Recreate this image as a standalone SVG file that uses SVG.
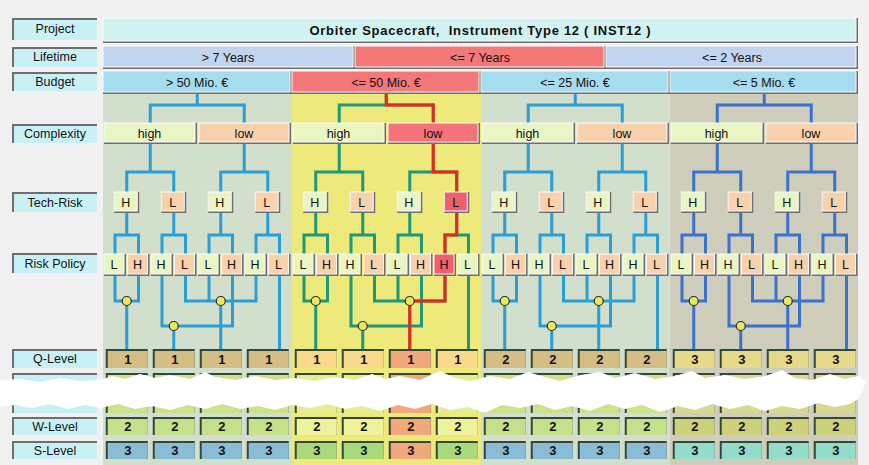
<svg xmlns="http://www.w3.org/2000/svg" width="869" height="465" viewBox="0 0 869 465">
<style>
.t{font-family:"Liberation Sans",Arial,sans-serif;font-size:12.5px;fill:#111;text-anchor:middle}
.b{font-weight:bold;font-size:13px}
.d{fill:#6e6e6e}
.dk{fill:#34483a}
.lb{fill:#c9f1f5}
.hg{fill:#eaf5c4;stroke:#fbfbfb;stroke-width:1}
.pc{fill:#f8d2ac;stroke:#fbfbfb;stroke-width:1}
.rd{fill:#f3747a;stroke:#fbfbfb;stroke-width:1}
.rd2{fill:#ef5f6c;stroke:#fbfbfb;stroke-width:1}
.ln{fill:none;stroke-width:3}
.jn{fill:#e9e95c;stroke:#2a2a2a;stroke-width:1.2}
.q1{fill:#d5be86}.q2{fill:#f9d98a}.q4{fill:#e5d98a}.qr{fill:#f1a87a}
.w1{fill:#c5e08a}.w2{fill:#eef29c}.w4{fill:#cdd27a}
.s1{fill:#8abdd5}.s2{fill:#a9d97b}.s4{fill:#92dcc9}
.r1{fill:#cfe088}.r2{fill:#e6ec90}.r4{fill:#d8d890}
</style>
<rect x="0" y="0" width="869" height="465" fill="#f1f1f1"/>
<!-- column backgrounds -->
<rect x="103" y="94" width="189" height="371" fill="#d3dfcd"/>
<rect x="292" y="94" width="189" height="371" fill="#ede97a"/>
<rect x="481" y="94" width="189" height="371" fill="#d3dfcd"/>
<rect x="670" y="94" width="188" height="371" fill="#cfcdbb"/>

<!-- left labels -->
<g id="labels">
<g id="lbl-project"><rect class="d" x="12" y="18" width="85" height="22"/><rect class="lb" x="14" y="20" width="83" height="20"/><text class="t" x="55" y="33">Project</text></g>
<g id="lbl-lifetime"><rect class="d" x="12" y="47" width="85" height="20"/><rect class="lb" x="14" y="49" width="83" height="18"/><text class="t" x="55" y="61">Lifetime</text></g>
<g id="lbl-budget"><rect class="d" x="12" y="72" width="85" height="19"/><rect class="lb" x="14" y="74" width="83" height="17"/><text class="t" x="55" y="86">Budget</text></g>
<g id="lbl-complexity"><rect class="d" x="12" y="124" width="85" height="19"/><rect class="lb" x="14" y="126" width="83" height="17"/><text class="t" x="55" y="138">Complexity</text></g>
<g id="lbl-techrisk"><rect class="d" x="12" y="192" width="85" height="20"/><rect class="lb" x="14" y="194" width="83" height="18"/><text class="t" x="55" y="207">Tech-Risk</text></g>
<g id="lbl-riskpolicy"><rect class="d" x="12" y="253" width="85" height="20"/><rect class="lb" x="14" y="255" width="83" height="18"/><text class="t" x="55" y="268">Risk Policy</text></g>
<g id="lbl-qlevel"><rect class="d" x="12" y="349" width="85" height="19"/><rect class="lb" x="14" y="351" width="83" height="17"/><text class="t" x="55" y="363">Q-Level</text></g>
<g id="lbl-hidden1"><rect class="d" x="12" y="373" width="85" height="18"/><rect class="lb" x="14" y="375" width="83" height="16"/></g>
<g id="lbl-hidden2"><rect class="d" x="12" y="395" width="85" height="18"/><rect class="lb" x="14" y="397" width="83" height="16"/></g>
<g id="lbl-wlevel"><rect class="d" x="12" y="417" width="85" height="18"/><rect class="lb" x="14" y="419" width="83" height="16"/><text class="t" x="55" y="431">W-Level</text></g>
<g id="lbl-slevel"><rect class="d" x="12" y="441" width="85" height="18"/><rect class="lb" x="14" y="443" width="83" height="16"/><text class="t" x="55" y="455">S-Level</text></g>
</g>

<!-- header bars -->
<g id="project"><rect class="d" x="103" y="18" width="755" height="25"/><rect x="103" y="18" width="753" height="23" fill="#d2f2f2" stroke="#fbfbfb"/><text class="t b" x="480" y="35" font-size="14" textLength="341" xml:space="preserve">Orbiter Spacecraft,  Instrument Type 12 ( INST12 )</text></g>
<g id="life-1"><rect class="d" x="103" y="46" width="252" height="23"/><rect x="103" y="46" width="250" height="21" fill="#c2d4ee" stroke="#fbfbfb"/><text class="t" x="228" y="62">&gt; 7 Years</text></g>
<g id="life-2"><rect class="d" x="355" y="46" width="251" height="23"/><rect x="355" y="46" width="249" height="21" fill="#f47878" stroke="#fbfbfb"/><text class="t" x="480" y="62">&lt;= 7 Years</text></g>
<g id="life-3"><rect class="d" x="606" y="46" width="252" height="23"/><rect x="606" y="46" width="250" height="21" fill="#c2d4ee" stroke="#fbfbfb"/><text class="t" x="732" y="62">&lt;= 2 Years</text></g>
<g id="budget-1"><rect class="d" x="103" y="71" width="189" height="23"/><rect x="103" y="71" width="187" height="21" fill="#a6dcf0" stroke="#fbfbfb"/><text class="t" x="197" y="87">&gt; 50 Mio. €</text></g>
<g id="budget-2"><rect class="d" x="292" y="71" width="189" height="23"/><rect x="292" y="71" width="187" height="21" fill="#f47878" stroke="#fbfbfb"/><text class="t" x="386" y="87">&lt;= 50 Mio. €</text></g>
<g id="budget-3"><rect class="d" x="481" y="71" width="189" height="23"/><rect x="481" y="71" width="187" height="21" fill="#a6dcf0" stroke="#fbfbfb"/><text class="t" x="575" y="87">&lt;= 25 Mio. €</text></g>
<g id="budget-4"><rect class="d" x="670" y="71" width="188" height="23"/><rect x="670" y="71" width="186" height="21" fill="#a6dcf0" stroke="#fbfbfb"/><text class="t" x="764" y="87">&lt;= 5 Mio. €</text></g>

<!-- connectors -->
<g id="connectors">
<g transform="translate(103,0)"><path class="ln" stroke="#2a9fd6" d="M94.25 94V105M47.25 123V105H141.25V123M47.25 144V172M23.75 192V172H70.75V192M141.25 144V172M117.75 192V172H164.75V192M23.75 213V235M12 254V235H35.5V254M70.75 213V235M59 254V235H82.5V254M117.75 213V235M106 254V235H129.5V254M164.75 213V235M153 254V235H176.5V254M12 276V301H35.5V276M23.75 301V349M59 276V326H129.5V276M70.75 326V349M82.5 276V301H153V276M106 276V301M117.75 301V349M176.5 276V349"/><circle class="jn" cx="23.75" cy="301" r="4.5"/><circle class="jn" cx="70.75" cy="326" r="4.5"/><circle class="jn" cx="117.75" cy="301" r="4.5"/></g>
<g transform="translate(292,0)"><path class="ln" stroke="#1f9a78" d="M94.25 94V105M47.25 123V105H141.25V123M47.25 144V172M23.75 192V172H70.75V192M141.25 144V172M117.75 192V172H164.75V192M23.75 213V235M12 254V235H35.5V254M70.75 213V235M59 254V235H82.5V254M117.75 213V235M106 254V235H129.5V254M164.75 213V235M153 254V235H176.5V254M12 276V301H35.5V276M23.75 301V349M59 276V326H129.5V276M70.75 326V349M82.5 276V301H153V276M106 276V301M117.75 301V349M176.5 276V349"/><path class="ln" stroke="#e8281c" d="M94.25 94V105H141.25V123M141.25 144V172H164.75V192M164.75 213V235H153V254M153 276V301H117.75V349"/><circle class="jn" cx="23.75" cy="301" r="4.5"/><circle class="jn" cx="70.75" cy="326" r="4.5"/><circle class="jn" cx="117.75" cy="301" r="4.5"/></g>
<g transform="translate(481,0)"><path class="ln" stroke="#2a9fd6" d="M94.25 94V105M47.25 123V105H141.25V123M47.25 144V172M23.75 192V172H70.75V192M141.25 144V172M117.75 192V172H164.75V192M23.75 213V235M12 254V235H35.5V254M70.75 213V235M59 254V235H82.5V254M117.75 213V235M106 254V235H129.5V254M164.75 213V235M153 254V235H176.5V254M12 276V301H35.5V276M23.75 301V349M59 276V326H129.5V276M70.75 326V349M82.5 276V301H153V276M106 276V301M117.75 301V349M176.5 276V349"/><circle class="jn" cx="23.75" cy="301" r="4.5"/><circle class="jn" cx="70.75" cy="326" r="4.5"/><circle class="jn" cx="117.75" cy="301" r="4.5"/></g>
<g transform="translate(670,0)"><path class="ln" stroke="#3a72cc" d="M94.25 94V105M47.25 123V105H141.25V123M47.25 144V172M23.75 192V172H70.75V192M141.25 144V172M117.75 192V172H164.75V192M23.75 213V235M12 254V235H35.5V254M70.75 213V235M59 254V235H82.5V254M117.75 213V235M106 254V235H129.5V254M164.75 213V235M153 254V235H176.5V254M12 276V301H35.5V276M23.75 301V349M59 276V326H129.5V276M70.75 326V349M82.5 276V301H153V276M106 276V301M117.75 301V349M176.5 276V349"/><circle class="jn" cx="23.75" cy="301" r="4.5"/><circle class="jn" cx="70.75" cy="326" r="4.5"/><circle class="jn" cx="117.75" cy="301" r="4.5"/></g>
</g>

<!-- column 1 nodes -->
<g id="col1" transform="translate(103,0)">
<g id="c1-high"><rect class="d" x="1" y="123" width="93" height="21"/><rect class="hg" x="1" y="123" width="91" height="19"/><text class="t" x="46.5" y="138">high</text></g>
<g id="c1-low"><rect class="d" x="96" y="123" width="92" height="21"/><rect class="pc" x="96" y="123" width="90" height="19"/><text class="t" x="141" y="138">low</text></g>
<g id="c1-t1"><rect class="d" x="11.25" y="192" width="25" height="21"/><rect class="hg" x="11.25" y="192" width="23" height="19"/><text class="t" x="22.75" y="207">H</text></g>
<g id="c1-t2"><rect class="d" x="58.25" y="192" width="25" height="21"/><rect class="pc" x="58.25" y="192" width="23" height="19"/><text class="t" x="69.75" y="207">L</text></g>
<g id="c1-t3"><rect class="d" x="105.25" y="192" width="25" height="21"/><rect class="hg" x="105.25" y="192" width="23" height="19"/><text class="t" x="116.75" y="207">H</text></g>
<g id="c1-t4"><rect class="d" x="152.25" y="192" width="25" height="21"/><rect class="pc" x="152.25" y="192" width="23" height="19"/><text class="t" x="163.75" y="207">L</text></g>
<g id="c1-p1"><rect class="d" x="1" y="254" width="22" height="22"/><rect class="hg" x="1" y="254" width="20" height="20"/><text class="t" x="11" y="269">L</text></g>
<g id="c1-p2"><rect class="d" x="24.5" y="254" width="22" height="22"/><rect class="pc" x="24.5" y="254" width="20" height="20"/><text class="t" x="34.5" y="269">H</text></g>
<g id="c1-p3"><rect class="d" x="48" y="254" width="22" height="22"/><rect class="hg" x="48" y="254" width="20" height="20"/><text class="t" x="58" y="269">H</text></g>
<g id="c1-p4"><rect class="d" x="71.5" y="254" width="22" height="22"/><rect class="pc" x="71.5" y="254" width="20" height="20"/><text class="t" x="81.5" y="269">L</text></g>
<g id="c1-p5"><rect class="d" x="95" y="254" width="22" height="22"/><rect class="hg" x="95" y="254" width="20" height="20"/><text class="t" x="105" y="269">L</text></g>
<g id="c1-p6"><rect class="d" x="118.5" y="254" width="22" height="22"/><rect class="pc" x="118.5" y="254" width="20" height="20"/><text class="t" x="128.5" y="269">H</text></g>
<g id="c1-p7"><rect class="d" x="142" y="254" width="22" height="22"/><rect class="hg" x="142" y="254" width="20" height="20"/><text class="t" x="152" y="269">H</text></g>
<g id="c1-p8"><rect class="d" x="165.5" y="254" width="22" height="22"/><rect class="pc" x="165.5" y="254" width="20" height="20"/><text class="t" x="175.5" y="269">L</text></g>
<g id="c1-q"><rect class="dk" x="2.75" y="349" width="42" height="19"/><rect class="q1" x="4.75" y="351" width="40" height="17"/><text class="t b" x="24.75" y="364">1</text><rect class="dk" x="49.75" y="349" width="42" height="19"/><rect class="q1" x="51.75" y="351" width="40" height="17"/><text class="t b" x="71.75" y="364">1</text><rect class="dk" x="96.75" y="349" width="42" height="19"/><rect class="q1" x="98.75" y="351" width="40" height="17"/><text class="t b" x="118.75" y="364">1</text><rect class="dk" x="143.75" y="349" width="42" height="19"/><rect class="q1" x="145.75" y="351" width="40" height="17"/><text class="t b" x="165.75" y="364">1</text></g>
<g id="c1-h"><rect class="dk" x="2.75" y="373" width="42" height="18"/><rect class="r1" x="4.75" y="375" width="40" height="16"/><rect class="dk" x="49.75" y="373" width="42" height="18"/><rect class="r1" x="51.75" y="375" width="40" height="16"/><rect class="dk" x="96.75" y="373" width="42" height="18"/><rect class="r1" x="98.75" y="375" width="40" height="16"/><rect class="dk" x="143.75" y="373" width="42" height="18"/><rect class="r1" x="145.75" y="375" width="40" height="16"/><rect class="dk" x="2.75" y="395" width="42" height="18"/><rect class="r1" x="4.75" y="397" width="40" height="16"/><rect class="dk" x="49.75" y="395" width="42" height="18"/><rect class="r1" x="51.75" y="397" width="40" height="16"/><rect class="dk" x="96.75" y="395" width="42" height="18"/><rect class="r1" x="98.75" y="397" width="40" height="16"/><rect class="dk" x="143.75" y="395" width="42" height="18"/><rect class="r1" x="145.75" y="397" width="40" height="16"/></g>
<g id="c1-w"><rect class="dk" x="2.75" y="417" width="42" height="18"/><rect class="w1" x="4.75" y="419" width="40" height="16"/><text class="t b" x="24.75" y="431">2</text><rect class="dk" x="49.75" y="417" width="42" height="18"/><rect class="w1" x="51.75" y="419" width="40" height="16"/><text class="t b" x="71.75" y="431">2</text><rect class="dk" x="96.75" y="417" width="42" height="18"/><rect class="w1" x="98.75" y="419" width="40" height="16"/><text class="t b" x="118.75" y="431">2</text><rect class="dk" x="143.75" y="417" width="42" height="18"/><rect class="w1" x="145.75" y="419" width="40" height="16"/><text class="t b" x="165.75" y="431">2</text></g>
<g id="c1-s"><rect class="dk" x="2.75" y="441" width="42" height="18"/><rect class="s1" x="4.75" y="443" width="40" height="16"/><text class="t b" x="24.75" y="455">3</text><rect class="dk" x="49.75" y="441" width="42" height="18"/><rect class="s1" x="51.75" y="443" width="40" height="16"/><text class="t b" x="71.75" y="455">3</text><rect class="dk" x="96.75" y="441" width="42" height="18"/><rect class="s1" x="98.75" y="443" width="40" height="16"/><text class="t b" x="118.75" y="455">3</text><rect class="dk" x="143.75" y="441" width="42" height="18"/><rect class="s1" x="145.75" y="443" width="40" height="16"/><text class="t b" x="165.75" y="455">3</text></g>
</g>

<!-- column 2 nodes -->
<g id="col2" transform="translate(292,0)">
<g id="c2-high"><rect class="d" x="1" y="123" width="93" height="21"/><rect class="hg" x="1" y="123" width="91" height="19"/><text class="t" x="46.5" y="138">high</text></g>
<g id="c2-low"><rect class="d" x="96" y="123" width="92" height="21"/><rect class="rd" x="96" y="123" width="90" height="19"/><text class="t" x="141" y="138">low</text></g>
<g id="c2-t1"><rect class="d" x="11.25" y="192" width="25" height="21"/><rect class="hg" x="11.25" y="192" width="23" height="19"/><text class="t" x="22.75" y="207">H</text></g>
<g id="c2-t2"><rect class="d" x="58.25" y="192" width="25" height="21"/><rect class="pc" x="58.25" y="192" width="23" height="19"/><text class="t" x="69.75" y="207">L</text></g>
<g id="c2-t3"><rect class="d" x="105.25" y="192" width="25" height="21"/><rect class="hg" x="105.25" y="192" width="23" height="19"/><text class="t" x="116.75" y="207">H</text></g>
<g id="c2-t4"><rect class="d" x="152.25" y="192" width="25" height="21"/><rect class="rd2" x="152.25" y="192" width="23" height="19"/><text class="t" x="163.75" y="207">L</text></g>
<g id="c2-p1"><rect class="d" x="1" y="254" width="22" height="22"/><rect class="hg" x="1" y="254" width="20" height="20"/><text class="t" x="11" y="269">L</text></g>
<g id="c2-p2"><rect class="d" x="24.5" y="254" width="22" height="22"/><rect class="pc" x="24.5" y="254" width="20" height="20"/><text class="t" x="34.5" y="269">H</text></g>
<g id="c2-p3"><rect class="d" x="48" y="254" width="22" height="22"/><rect class="hg" x="48" y="254" width="20" height="20"/><text class="t" x="58" y="269">H</text></g>
<g id="c2-p4"><rect class="d" x="71.5" y="254" width="22" height="22"/><rect class="pc" x="71.5" y="254" width="20" height="20"/><text class="t" x="81.5" y="269">L</text></g>
<g id="c2-p5"><rect class="d" x="95" y="254" width="22" height="22"/><rect class="hg" x="95" y="254" width="20" height="20"/><text class="t" x="105" y="269">L</text></g>
<g id="c2-p6"><rect class="d" x="118.5" y="254" width="22" height="22"/><rect class="pc" x="118.5" y="254" width="20" height="20"/><text class="t" x="128.5" y="269">H</text></g>
<g id="c2-p7"><rect class="d" x="142" y="254" width="22" height="22"/><rect class="rd2" x="142" y="254" width="20" height="20"/><text class="t" x="152" y="269">H</text></g>
<g id="c2-p8"><rect class="d" x="165.5" y="254" width="22" height="22"/><rect class="hg" x="165.5" y="254" width="20" height="20"/><text class="t" x="175.5" y="269">L</text></g>
<g id="c2-q"><rect class="dk" x="2.75" y="349" width="42" height="19"/><rect class="q2" x="4.75" y="351" width="40" height="17"/><text class="t b" x="24.75" y="364">1</text><rect class="dk" x="49.75" y="349" width="42" height="19"/><rect class="q2" x="51.75" y="351" width="40" height="17"/><text class="t b" x="71.75" y="364">1</text><rect class="dk" x="96.75" y="349" width="42" height="19"/><rect class="qr" x="98.75" y="351" width="40" height="17"/><text class="t b" x="118.75" y="364">1</text><rect class="dk" x="143.75" y="349" width="42" height="19"/><rect class="q2" x="145.75" y="351" width="40" height="17"/><text class="t b" x="165.75" y="364">1</text></g>
<g id="c2-h"><rect class="dk" x="2.75" y="373" width="42" height="18"/><rect class="r2" x="4.75" y="375" width="40" height="16"/><rect class="dk" x="49.75" y="373" width="42" height="18"/><rect class="r2" x="51.75" y="375" width="40" height="16"/><rect class="dk" x="96.75" y="373" width="42" height="18"/><rect class="qr" x="98.75" y="375" width="40" height="16"/><rect class="dk" x="143.75" y="373" width="42" height="18"/><rect class="r2" x="145.75" y="375" width="40" height="16"/><rect class="dk" x="2.75" y="395" width="42" height="18"/><rect class="r2" x="4.75" y="397" width="40" height="16"/><rect class="dk" x="49.75" y="395" width="42" height="18"/><rect class="r2" x="51.75" y="397" width="40" height="16"/><rect class="dk" x="96.75" y="395" width="42" height="18"/><rect class="qr" x="98.75" y="397" width="40" height="16"/><rect class="dk" x="143.75" y="395" width="42" height="18"/><rect class="r2" x="145.75" y="397" width="40" height="16"/></g>
<g id="c2-w"><rect class="dk" x="2.75" y="417" width="42" height="18"/><rect class="w2" x="4.75" y="419" width="40" height="16"/><text class="t b" x="24.75" y="431">2</text><rect class="dk" x="49.75" y="417" width="42" height="18"/><rect class="w2" x="51.75" y="419" width="40" height="16"/><text class="t b" x="71.75" y="431">2</text><rect class="dk" x="96.75" y="417" width="42" height="18"/><rect class="qr" x="98.75" y="419" width="40" height="16"/><text class="t b" x="118.75" y="431">2</text><rect class="dk" x="143.75" y="417" width="42" height="18"/><rect class="w2" x="145.75" y="419" width="40" height="16"/><text class="t b" x="165.75" y="431">2</text></g>
<g id="c2-s"><rect class="dk" x="2.75" y="441" width="42" height="18"/><rect class="s2" x="4.75" y="443" width="40" height="16"/><text class="t b" x="24.75" y="455">3</text><rect class="dk" x="49.75" y="441" width="42" height="18"/><rect class="s2" x="51.75" y="443" width="40" height="16"/><text class="t b" x="71.75" y="455">3</text><rect class="dk" x="96.75" y="441" width="42" height="18"/><rect class="qr" x="98.75" y="443" width="40" height="16"/><text class="t b" x="118.75" y="455">3</text><rect class="dk" x="143.75" y="441" width="42" height="18"/><rect class="s2" x="145.75" y="443" width="40" height="16"/><text class="t b" x="165.75" y="455">3</text></g>
</g>

<!-- column 3 nodes -->
<g id="col3" transform="translate(481,0)">
<g id="c3-high"><rect class="d" x="1" y="123" width="93" height="21"/><rect class="hg" x="1" y="123" width="91" height="19"/><text class="t" x="46.5" y="138">high</text></g>
<g id="c3-low"><rect class="d" x="96" y="123" width="92" height="21"/><rect class="pc" x="96" y="123" width="90" height="19"/><text class="t" x="141" y="138">low</text></g>
<g id="c3-t1"><rect class="d" x="11.25" y="192" width="25" height="21"/><rect class="hg" x="11.25" y="192" width="23" height="19"/><text class="t" x="22.75" y="207">H</text></g>
<g id="c3-t2"><rect class="d" x="58.25" y="192" width="25" height="21"/><rect class="pc" x="58.25" y="192" width="23" height="19"/><text class="t" x="69.75" y="207">L</text></g>
<g id="c3-t3"><rect class="d" x="105.25" y="192" width="25" height="21"/><rect class="hg" x="105.25" y="192" width="23" height="19"/><text class="t" x="116.75" y="207">H</text></g>
<g id="c3-t4"><rect class="d" x="152.25" y="192" width="25" height="21"/><rect class="pc" x="152.25" y="192" width="23" height="19"/><text class="t" x="163.75" y="207">L</text></g>
<g id="c3-p1"><rect class="d" x="1" y="254" width="22" height="22"/><rect class="hg" x="1" y="254" width="20" height="20"/><text class="t" x="11" y="269">L</text></g>
<g id="c3-p2"><rect class="d" x="24.5" y="254" width="22" height="22"/><rect class="pc" x="24.5" y="254" width="20" height="20"/><text class="t" x="34.5" y="269">H</text></g>
<g id="c3-p3"><rect class="d" x="48" y="254" width="22" height="22"/><rect class="hg" x="48" y="254" width="20" height="20"/><text class="t" x="58" y="269">H</text></g>
<g id="c3-p4"><rect class="d" x="71.5" y="254" width="22" height="22"/><rect class="pc" x="71.5" y="254" width="20" height="20"/><text class="t" x="81.5" y="269">L</text></g>
<g id="c3-p5"><rect class="d" x="95" y="254" width="22" height="22"/><rect class="hg" x="95" y="254" width="20" height="20"/><text class="t" x="105" y="269">L</text></g>
<g id="c3-p6"><rect class="d" x="118.5" y="254" width="22" height="22"/><rect class="pc" x="118.5" y="254" width="20" height="20"/><text class="t" x="128.5" y="269">H</text></g>
<g id="c3-p7"><rect class="d" x="142" y="254" width="22" height="22"/><rect class="hg" x="142" y="254" width="20" height="20"/><text class="t" x="152" y="269">H</text></g>
<g id="c3-p8"><rect class="d" x="165.5" y="254" width="22" height="22"/><rect class="pc" x="165.5" y="254" width="20" height="20"/><text class="t" x="175.5" y="269">L</text></g>
<g id="c3-q"><rect class="dk" x="2.75" y="349" width="42" height="19"/><rect class="q1" x="4.75" y="351" width="40" height="17"/><text class="t b" x="24.75" y="364">2</text><rect class="dk" x="49.75" y="349" width="42" height="19"/><rect class="q1" x="51.75" y="351" width="40" height="17"/><text class="t b" x="71.75" y="364">2</text><rect class="dk" x="96.75" y="349" width="42" height="19"/><rect class="q1" x="98.75" y="351" width="40" height="17"/><text class="t b" x="118.75" y="364">2</text><rect class="dk" x="143.75" y="349" width="42" height="19"/><rect class="q1" x="145.75" y="351" width="40" height="17"/><text class="t b" x="165.75" y="364">2</text></g>
<g id="c3-h"><rect class="dk" x="2.75" y="373" width="42" height="18"/><rect class="r1" x="4.75" y="375" width="40" height="16"/><rect class="dk" x="49.75" y="373" width="42" height="18"/><rect class="r1" x="51.75" y="375" width="40" height="16"/><rect class="dk" x="96.75" y="373" width="42" height="18"/><rect class="r1" x="98.75" y="375" width="40" height="16"/><rect class="dk" x="143.75" y="373" width="42" height="18"/><rect class="r1" x="145.75" y="375" width="40" height="16"/><rect class="dk" x="2.75" y="395" width="42" height="18"/><rect class="r1" x="4.75" y="397" width="40" height="16"/><rect class="dk" x="49.75" y="395" width="42" height="18"/><rect class="r1" x="51.75" y="397" width="40" height="16"/><rect class="dk" x="96.75" y="395" width="42" height="18"/><rect class="r1" x="98.75" y="397" width="40" height="16"/><rect class="dk" x="143.75" y="395" width="42" height="18"/><rect class="r1" x="145.75" y="397" width="40" height="16"/></g>
<g id="c3-w"><rect class="dk" x="2.75" y="417" width="42" height="18"/><rect class="w1" x="4.75" y="419" width="40" height="16"/><text class="t b" x="24.75" y="431">2</text><rect class="dk" x="49.75" y="417" width="42" height="18"/><rect class="w1" x="51.75" y="419" width="40" height="16"/><text class="t b" x="71.75" y="431">2</text><rect class="dk" x="96.75" y="417" width="42" height="18"/><rect class="w1" x="98.75" y="419" width="40" height="16"/><text class="t b" x="118.75" y="431">2</text><rect class="dk" x="143.75" y="417" width="42" height="18"/><rect class="w1" x="145.75" y="419" width="40" height="16"/><text class="t b" x="165.75" y="431">2</text></g>
<g id="c3-s"><rect class="dk" x="2.75" y="441" width="42" height="18"/><rect class="s1" x="4.75" y="443" width="40" height="16"/><text class="t b" x="24.75" y="455">3</text><rect class="dk" x="49.75" y="441" width="42" height="18"/><rect class="s1" x="51.75" y="443" width="40" height="16"/><text class="t b" x="71.75" y="455">3</text><rect class="dk" x="96.75" y="441" width="42" height="18"/><rect class="s1" x="98.75" y="443" width="40" height="16"/><text class="t b" x="118.75" y="455">3</text><rect class="dk" x="143.75" y="441" width="42" height="18"/><rect class="s1" x="145.75" y="443" width="40" height="16"/><text class="t b" x="165.75" y="455">3</text></g>
</g>

<!-- column 4 nodes -->
<g id="col4" transform="translate(670,0)">
<g id="c4-high"><rect class="d" x="1" y="123" width="93" height="21"/><rect class="hg" x="1" y="123" width="91" height="19"/><text class="t" x="46.5" y="138">high</text></g>
<g id="c4-low"><rect class="d" x="96" y="123" width="92" height="21"/><rect class="pc" x="96" y="123" width="90" height="19"/><text class="t" x="141" y="138">low</text></g>
<g id="c4-t1"><rect class="d" x="11.25" y="192" width="25" height="21"/><rect class="hg" x="11.25" y="192" width="23" height="19"/><text class="t" x="22.75" y="207">H</text></g>
<g id="c4-t2"><rect class="d" x="58.25" y="192" width="25" height="21"/><rect class="pc" x="58.25" y="192" width="23" height="19"/><text class="t" x="69.75" y="207">L</text></g>
<g id="c4-t3"><rect class="d" x="105.25" y="192" width="25" height="21"/><rect class="hg" x="105.25" y="192" width="23" height="19"/><text class="t" x="116.75" y="207">H</text></g>
<g id="c4-t4"><rect class="d" x="152.25" y="192" width="25" height="21"/><rect class="pc" x="152.25" y="192" width="23" height="19"/><text class="t" x="163.75" y="207">L</text></g>
<g id="c4-p1"><rect class="d" x="1" y="254" width="22" height="22"/><rect class="hg" x="1" y="254" width="20" height="20"/><text class="t" x="11" y="269">L</text></g>
<g id="c4-p2"><rect class="d" x="24.5" y="254" width="22" height="22"/><rect class="pc" x="24.5" y="254" width="20" height="20"/><text class="t" x="34.5" y="269">H</text></g>
<g id="c4-p3"><rect class="d" x="48" y="254" width="22" height="22"/><rect class="hg" x="48" y="254" width="20" height="20"/><text class="t" x="58" y="269">H</text></g>
<g id="c4-p4"><rect class="d" x="71.5" y="254" width="22" height="22"/><rect class="pc" x="71.5" y="254" width="20" height="20"/><text class="t" x="81.5" y="269">L</text></g>
<g id="c4-p5"><rect class="d" x="95" y="254" width="22" height="22"/><rect class="hg" x="95" y="254" width="20" height="20"/><text class="t" x="105" y="269">L</text></g>
<g id="c4-p6"><rect class="d" x="118.5" y="254" width="22" height="22"/><rect class="pc" x="118.5" y="254" width="20" height="20"/><text class="t" x="128.5" y="269">H</text></g>
<g id="c4-p7"><rect class="d" x="142" y="254" width="22" height="22"/><rect class="hg" x="142" y="254" width="20" height="20"/><text class="t" x="152" y="269">H</text></g>
<g id="c4-p8"><rect class="d" x="165.5" y="254" width="22" height="22"/><rect class="pc" x="165.5" y="254" width="20" height="20"/><text class="t" x="175.5" y="269">L</text></g>
<g id="c4-q"><rect class="dk" x="2.75" y="349" width="42" height="19"/><rect class="q4" x="4.75" y="351" width="40" height="17"/><text class="t b" x="24.75" y="364">3</text><rect class="dk" x="49.75" y="349" width="42" height="19"/><rect class="q4" x="51.75" y="351" width="40" height="17"/><text class="t b" x="71.75" y="364">3</text><rect class="dk" x="96.75" y="349" width="42" height="19"/><rect class="q4" x="98.75" y="351" width="40" height="17"/><text class="t b" x="118.75" y="364">3</text><rect class="dk" x="143.75" y="349" width="42" height="19"/><rect class="q4" x="145.75" y="351" width="40" height="17"/><text class="t b" x="165.75" y="364">3</text></g>
<g id="c4-h"><rect class="dk" x="2.75" y="373" width="42" height="18"/><rect class="r4" x="4.75" y="375" width="40" height="16"/><rect class="dk" x="49.75" y="373" width="42" height="18"/><rect class="r4" x="51.75" y="375" width="40" height="16"/><rect class="dk" x="96.75" y="373" width="42" height="18"/><rect class="r4" x="98.75" y="375" width="40" height="16"/><rect class="dk" x="143.75" y="373" width="42" height="18"/><rect class="r4" x="145.75" y="375" width="40" height="16"/><rect class="dk" x="2.75" y="395" width="42" height="18"/><rect class="r4" x="4.75" y="397" width="40" height="16"/><rect class="dk" x="49.75" y="395" width="42" height="18"/><rect class="r4" x="51.75" y="397" width="40" height="16"/><rect class="dk" x="96.75" y="395" width="42" height="18"/><rect class="r4" x="98.75" y="397" width="40" height="16"/><rect class="dk" x="143.75" y="395" width="42" height="18"/><rect class="r4" x="145.75" y="397" width="40" height="16"/></g>
<g id="c4-w"><rect class="dk" x="2.75" y="417" width="42" height="18"/><rect class="w4" x="4.75" y="419" width="40" height="16"/><text class="t b" x="24.75" y="431">2</text><rect class="dk" x="49.75" y="417" width="42" height="18"/><rect class="w4" x="51.75" y="419" width="40" height="16"/><text class="t b" x="71.75" y="431">2</text><rect class="dk" x="96.75" y="417" width="42" height="18"/><rect class="w4" x="98.75" y="419" width="40" height="16"/><text class="t b" x="118.75" y="431">2</text><rect class="dk" x="143.75" y="417" width="42" height="18"/><rect class="w4" x="145.75" y="419" width="40" height="16"/><text class="t b" x="165.75" y="431">2</text></g>
<g id="c4-s"><rect class="dk" x="2.75" y="441" width="42" height="18"/><rect class="s4" x="4.75" y="443" width="40" height="16"/><text class="t b" x="24.75" y="455">3</text><rect class="dk" x="49.75" y="441" width="42" height="18"/><rect class="s4" x="51.75" y="443" width="40" height="16"/><text class="t b" x="71.75" y="455">3</text><rect class="dk" x="96.75" y="441" width="42" height="18"/><rect class="s4" x="98.75" y="443" width="40" height="16"/><text class="t b" x="118.75" y="455">3</text><rect class="dk" x="143.75" y="441" width="42" height="18"/><rect class="s4" x="145.75" y="443" width="40" height="16"/><text class="t b" x="165.75" y="455">3</text></g>
</g>

<!-- torn paper band -->
<path id="tear" fill="#ffffff" d="M0 380 L20 379 L40 382 L60 378 L80 381 L100 380 L112 376 L125 379 L140 374 L155 378 L170 375 L190 379 L205 372 L215 377 L235 380 L255 376 L275 380 L295 378 L315 381 L335 377 L355 380 L372 374 L385 379 L400 376 L420 380 L440 371 L455 378 L470 381 L490 376 L510 379 L528 372 L545 377 L560 381 L580 375 L600 372 L615 378 L635 373 L655 379 L675 376 L692 371 L705 378 L725 375 L745 379 L765 376 L782 370 L795 378 L812 380 L830 374 L845 379 L858 376 L866 382 L862 392 L858 399 L850 404 L835 407 L818 403 L800 409 L782 406 L765 411 L748 405 L730 409 L712 404 L695 410 L678 406 L660 412 L642 405 L625 409 L608 404 L590 411 L572 406 L555 410 L538 404 L520 408 L502 405 L485 413 L468 407 L450 410 L432 404 L415 409 L398 405 L380 411 L362 406 L345 409 L328 404 L310 408 L292 405 L275 410 L258 406 L240 409 L222 404 L205 409 L188 405 L170 410 L152 406 L135 409 L118 404 L100 408 L85 405 L68 409 L50 404 L32 408 L15 405 L0 407 Z"/>
</svg>
